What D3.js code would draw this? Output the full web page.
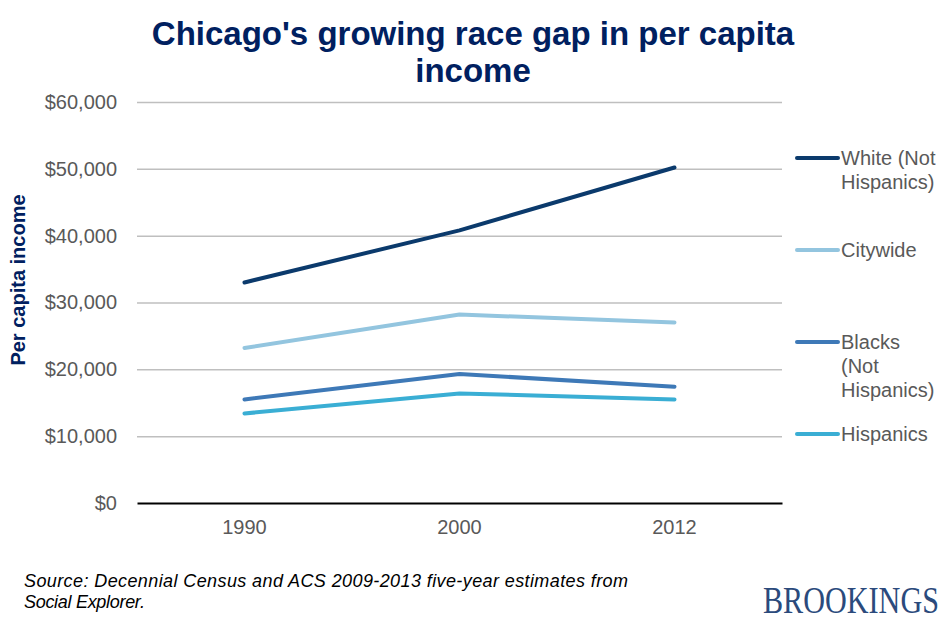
<!DOCTYPE html>
<html lang="en">
<head>
<meta charset="UTF-8">
<title>Chicago's growing race gap in per capita income</title>
<script src="https://cdn.jsdelivr.net/npm/d3@7/dist/d3.min.js"></script>
<style>
  body { margin: 0; background: #fff; }
  svg { display: block; font-family: "Liberation Sans", Arial, sans-serif; }
</style>
</head>
<body>
<script>
    // data
    let years = ["1990", "2000", "2012"];
    let whiteNotHispanic = [33000, 40800, 50200];
    let citywide = [23200, 28200, 27000];
    let blacksNotHispanic = [15500, 19300, 17400];
    let hispanics = [13400, 16400, 15500];
    let yTicks = [0, 10000, 20000, 30000, 40000, 50000, 60000];

    let series = [
        {name: ["White (Not", "Hispanics)"], values: whiteNotHispanic, color: "#0b3a6c"},
        {name: ["Citywide"], values: citywide, color: "#93c5df"},
        {name: ["Blacks", "(Not", "Hispanics)"], values: blacksNotHispanic, color: "#3e79b7"},
        {name: ["Hispanics"], values: hispanics, color: "#3aaed4"}
    ];

    let width = 946, height = 625;
    let margin = {left: 137, right: 164, top: 102, bottom: 122};

    let svg = d3.select('body').append('svg')
        .attr('width', width)
        .attr('height', height);

    let xScale = d3.scaleBand()
        .domain(years)
        .range([margin.left, width - margin.right]);
    let yScale = d3.scaleLinear()
        .domain([0, 60000])
        .range([height - margin.bottom, margin.top]);

    // title
    svg.append('text')
        .attr('x', 473).attr('y', 45)
        .attr('text-anchor', 'middle')
        .attr('fill', '#002060')
        .style('font-size', '33px').style('font-weight', 'bold')
        .selectAll('tspan')
        .data(["Chicago's growing race gap in per capita", "income"])
        .enter().append('tspan')
        .attr('x', 473)
        .attr('dy', (d, i) => i === 0 ? 0 : 37)
        .text(d => d);

    // gridlines
    let grid = svg.append('g')
        .attr('transform', 'translate(' + margin.left + ',0)')
        .call(d3.axisLeft(yScale)
            .tickValues(yTicks.slice(1))
            .tickSize(-(width - margin.left - margin.right))
            .tickFormat(''));
    grid.select('.domain').remove();
    grid.selectAll('line').attr('stroke', '#bfbfbf').attr('stroke-width', 1.5);

    // y tick labels
    let yAxis = svg.append('g')
        .attr('transform', 'translate(' + (margin.left - 17) + ',0)')
        .call(d3.axisLeft(yScale)
            .tickValues(yTicks)
            .tickSize(0)
            .tickFormat(d => '$' + d3.format(',')(d)));
    yAxis.select('.domain').remove();
    yAxis.selectAll('text')
        .attr('fill', '#595959')
        .style('font-size', '20px')
        .style('font-family', '"Liberation Sans", Arial, sans-serif');

    // x axis
    let xAxis = svg.append('g')
        .attr('transform', 'translate(0,' + (height - margin.bottom) + ')')
        .call(d3.axisBottom(xScale).tickSize(0).tickPadding(17));
    xAxis.select('.domain').attr('stroke', '#000').attr('stroke-width', 2);
    xAxis.selectAll('text')
        .attr('fill', '#595959')
        .style('font-size', '20px')
        .style('font-family', '"Liberation Sans", Arial, sans-serif');

    // y axis title
    svg.append('text')
        .attr('transform', 'translate(25,280) rotate(-90)')
        .attr('text-anchor', 'middle')
        .attr('fill', '#002060')
        .style('font-size', '20px').style('font-weight', 'bold')
        .text('Per capita income');

    // lines
    let line = d3.line()
        .x((d, i) => xScale(years[i]) + xScale.bandwidth() / 2)
        .y(d => yScale(d));

    svg.selectAll('path.series').data(series)
        .enter()
        .append('path')
        .attr('class', 'series')
        .attr('d', d => line(d.values))
        .attr('fill', 'none')
        .attr('stroke', d => d.color)
        .attr('stroke-width', 4)
        .attr('stroke-linecap', 'round')
        .attr('stroke-linejoin', 'round');

    // legend
    let legend = svg.selectAll('g.legend').data(series)
        .enter()
        .append('g')
        .attr('class', 'legend')
        .attr('transform', (d, i) => 'translate(797,' + (158 + i * 92) + ')');
    legend.append('line')
        .attr('x1', 0).attr('x2', 41)
        .attr('stroke', d => d.color)
        .attr('stroke-width', 4)
        .attr('stroke-linecap', 'round');
    legend.append('text')
        .attr('fill', '#595959')
        .style('font-size', '20px')
        .attr('y', 7)
        .selectAll('tspan')
        .data(d => d.name)
        .enter().append('tspan')
        .attr('x', 44)
        .attr('dy', (d, i) => i === 0 ? 0 : 24)
        .text(d => d);

    // source note
    let source = svg.append('text')
        .attr('x', 24).attr('y', 587)
        .attr('fill', '#000')
        .style('font-size', '18px').style('font-style', 'italic');
    source.append('tspan')
        .attr('x', 24)
        .attr('textLength', 604)
        .attr('lengthAdjust', 'spacing')
        .text('Source: Decennial Census and ACS 2009-2013 five-year estimates from');
    source.append('tspan')
        .attr('x', 24).attr('dy', 21)
        .style('letter-spacing', '-0.3px')
        .text('Social Explorer.');

    // logo, squeezed horizontally to look condensed
    let logo = svg.append('g');
    let logoText = logo.append('text')
        .attr('fill', '#2b4a7c')
        .style('font-family', '"Liberation Serif", "Times New Roman", serif')
        .style('font-size', '37px')
        .text('BROOKINGS');
    let sx = 176 / logoText.node().getComputedTextLength();
    logo.attr('transform', 'translate(763,613) scale(' + sx + ',1)');
</script>
</body>
</html>
